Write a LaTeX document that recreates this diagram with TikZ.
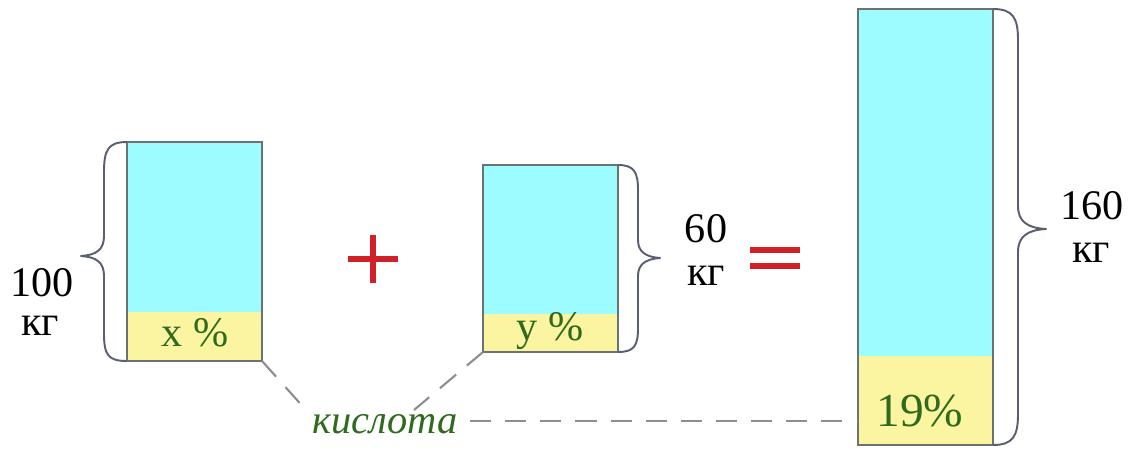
\documentclass[tikz,border=0pt]{standalone}
\usepackage{fontspec}
\setmainfont{Liberation Serif}
\begin{document}
\begin{tikzpicture}[x=0.02cm,y=-0.02cm,
  water/.style={fill=cyanfill},
  acid/.style={fill=yellowfill},
  frame/.style={draw=framegray,line width=0.8pt},
  bracepath/.style={draw=bracegray,line width=1.1pt,line join=round},
  lbl/.style={font=\fontsize{24}{26}\selectfont,text=black,inner sep=0pt},
  pct/.style={font=\fontsize{24}{26}\selectfont,text=pctgreen,inner sep=0pt},
  conn/.style={draw=dashgray,line width=1.2pt,dash pattern=on 12pt off 8pt},
  sign/.style={draw=signred,line width=3pt}]
\definecolor{cyanfill}{HTML}{9CFCFF}
\definecolor{yellowfill}{HTML}{FBF5A2}
\definecolor{framegray}{HTML}{6A7272}
\definecolor{bracegray}{HTML}{5A5E72}
\definecolor{pctgreen}{HTML}{2F6A1E}
\definecolor{dashgray}{HTML}{8A8F8F}
\definecolor{signred}{HTML}{D02028}
\useasboundingbox[fill=white] (0,0) rectangle (1132,452);

% box 1
\fill[water] (127,142) rectangle (262,312);
\fill[acid] (127,312) rectangle (262,361);
\draw[frame] (127,142) rectangle (262,361);
\coordinate (b1br) at (262,361);
\node[pct] (xp) at (195,333) {x \%};
\draw[bracepath] (127,142) .. controls (108,142) and (104,150) .. (104,172) -- (104,236)
  .. controls (104,250) and (96,255) .. (81,256)
  .. controls (96,257) and (104,262) .. (104,276) -- (104,333)
  .. controls (104,355) and (108,361) .. (127,361);
\node[lbl] (m1) at (42,283) {100};
\node[lbl] (u1) at (40,326) {кг};

% plus
\draw[sign] (348,259) -- (398,259);
\draw[sign] (373,235) -- (373,283);
\coordinate (plus) at (373,259);

% box 2
\fill[water] (483,165) rectangle (618,314);
\fill[acid] (483,314) rectangle (618,352);
\draw[frame] (483,165) rectangle (618,352);
\coordinate (b2bl) at (483,352);
\node[pct] (yp) at (550,331) {y \%};
\draw[bracepath] (618,165) .. controls (634,165) and (638,172) .. (638,190) -- (638,240)
  .. controls (638,252) and (646,257) .. (660,258)
  .. controls (646,259) and (638,264) .. (638,276) -- (638,328)
  .. controls (638,346) and (634,352) .. (618,352);
\node[lbl] (m2) at (706,229) {60};
\node[lbl] (u2) at (706,276) {кг};

% equals
\draw[sign] (750,250) -- (800,250);
\draw[sign] (750,266) -- (800,266);
\coordinate (eq) at (775,258);

% box 3
\fill[water] (858,9) rectangle (993,356);
\fill[acid] (858,356) rectangle (993,445);
\draw[frame] (858,9) rectangle (993,445);
\coordinate (b3l) at (858,421);
\node[pct,font=\fontsize{27}{29}\selectfont] (zp) at (920,411) {19\%};
\draw[bracepath] (993,9) .. controls (1013,9) and (1018,18) .. (1018,40) -- (1018,206)
  .. controls (1018,222) and (1028,228) .. (1046,229)
  .. controls (1028,230) and (1018,236) .. (1018,252) -- (1018,414)
  .. controls (1018,436) and (1013,445) .. (993,445);
\node[lbl] (m3) at (1092,206) {160};
\node[lbl] (u3) at (1091,253) {кг};

% acid label and connectors
\node[font=\fontsize{23}{25}\selectfont\itshape,text=pctgreen,inner sep=2pt] (acidlbl) at (385,424) {кислота};
\coordinate (c1) at (306,410);
\coordinate (c2) at (414,410);
\coordinate (c3) at (470,421);
\draw[conn] (b1br) -- (c1);
\draw[conn] (b2bl) -- (c2);
\draw[conn] (c3) -- (b3l);
\end{tikzpicture}
\end{document}
